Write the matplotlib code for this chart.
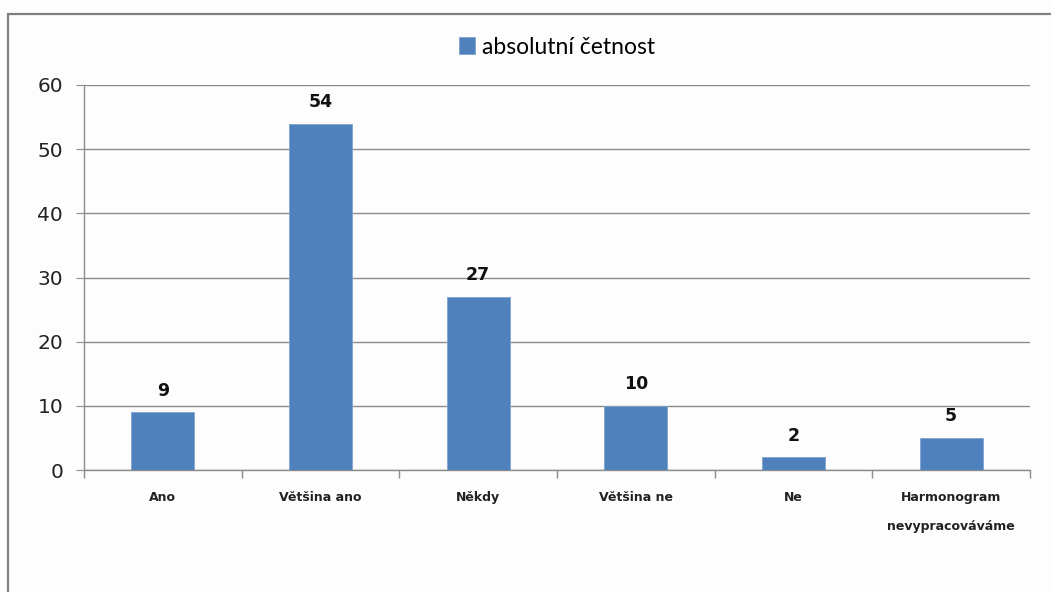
import matplotlib
matplotlib.use("Agg")
import matplotlib.pyplot as plt
from matplotlib.patches import Rectangle
import numpy as np

categories = ["Ano", "Většina ano", "Někdy", "Většina ne", "Ne", "Harmonogram\nnevypracováváme"]
values = [9, 54, 27, 10, 2, 5]
yticks = [0, 10, 20, 30, 40, 50, 60]
series_name = "absolutní četnost"

bar_color = "#4F81BD"
grid_color = "#8C8C8C"

fig = plt.figure(figsize=(10.51, 5.92), dpi=100)
fig.patch.set_facecolor("#FDFDFD")

# outer chart frame
frame = Rectangle((8 / 1051, -0.05), 1.1, 0.05 + (1 - 14 / 592), transform=fig.transFigure,
                  fill=False, edgecolor="#7F7F7F", linewidth=1.6, zorder=0)
fig.patches.append(frame)

ax = fig.add_axes([84 / 1051, 1 - 470 / 592, (1030 - 84) / 1051, (470 - 85) / 592])
ax.set_facecolor("#FDFDFD")

x = np.arange(len(categories))
bars = ax.bar(x, values, width=0.4, color=bar_color, edgecolor="#7FA3D0", linewidth=0.6,
              zorder=3, label=series_name)

ax.set_xlim(-0.5, len(categories) - 0.5)
ax.set_ylim(0, 60)
ax.set_yticks(yticks)
ax.set_yticklabels([str(v) for v in yticks], fontsize=14.5, color="#222222")
ax.yaxis.grid(True, color=grid_color, linewidth=1.0, zorder=0)
ax.set_axisbelow(True)

for s in ["top", "right"]:
    ax.spines[s].set_visible(False)
ax.spines["left"].set_color(grid_color)
ax.spines["bottom"].set_color(grid_color)
ax.spines["left"].set_linewidth(1.0)
ax.spines["bottom"].set_linewidth(1.0)

ax.tick_params(axis="y", length=6, color=grid_color, pad=9)
ax.set_xticks(x)
ax.set_xticklabels(categories, fontsize=9, fontweight="bold", color="#222222", linespacing=2.6, va="top")
ax.tick_params(axis="x", which="major", length=0, pad=15)
ax.set_xticks(np.arange(-0.5, len(categories), 1.0), minor=True)
ax.tick_params(axis="x", which="minor", length=6, color=grid_color, width=1.0)

for rect, v in zip(bars, values):
    ax.annotate(str(v), (rect.get_x() + rect.get_width() / 2, v), xytext=(0, 9),
                textcoords="offset points", ha="center", va="bottom",
                fontsize=12.5, fontweight="bold", color="#111111")

leg = fig.legend(loc="center", bbox_to_anchor=(557 / 1051, 1 - 47 / 592), frameon=False,
                 handlelength=0.7, handleheight=0.7, handletextpad=0.3,
                 prop={"family": "Lato", "size": 16.5})

fig.savefig("out.png", dpi=100, facecolor=fig.get_facecolor())
